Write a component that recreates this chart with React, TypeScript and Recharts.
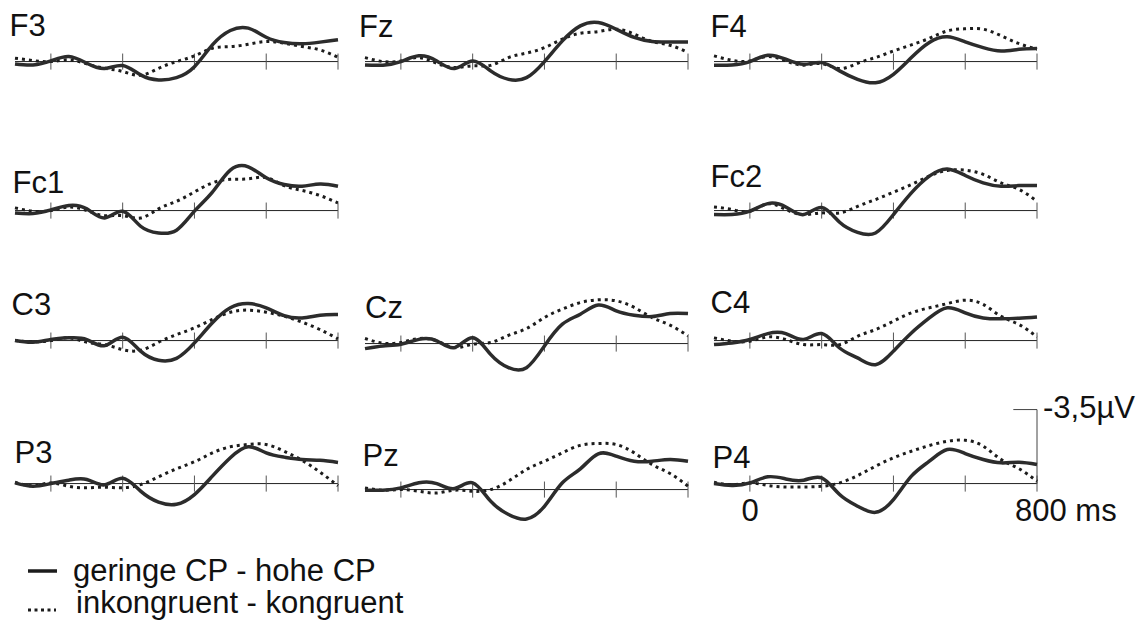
import React from 'react';
import { LineChart, Line, XAxis, YAxis, ReferenceLine } from 'recharts';

// time points in ms
const times = [-100, -50, 0, 50, 100, 150, 200, 250, 300, 350, 400, 450, 500, 550, 600, 650, 700, 750, 800];
const tickTimes = [0, 200, 400, 600, 800];

// difference waves in µV (negative plotted upwards)
const f3Solid = [0.11, 0.16, -0.03, -0.24, 0.08, 0.33, 0.19, 0.63, 0.87, 0.76, 0.24, -0.79, -1.47, -1.58, -1.15, -0.9, -0.84, -0.92, -1.03];
const f3Dotted = [-0.16, -0.05, 0, -0.08, 0.11, 0.32, 0.47, 0.65, 0.32, 0, -0.27, -0.63, -0.71, -0.82, -0.95, -0.87, -0.71, -0.55, -0.2];
const fzSolid = [0.16, 0.17, 0, -0.27, -0.03, 0.33, -0.03, 0.44, 0.84, 0.76, 0, -0.98, -1.69, -1.85, -1.53, -1.14, -0.95, -0.93, -0.93];
const fzDotted = [-0.19, 0, -0.03, -0.19, 0.08, 0.28, 0.2, 0.18, -0.19, -0.4, -0.66, -1.06, -1.34, -1.42, -1.53, -1.3, -0.95, -0.77, -0.43];
const f4Solid = [0.17, 0.16, 0, -0.3, -0.11, 0.13, 0.05, 0.44, 0.84, 1.0, 0.6, -0.19, -0.9, -1.17, -0.93, -0.66, -0.5, -0.58, -0.62];
const f4Dotted = [-0.27, -0.06, -0.03, -0.24, -0.03, 0.17, 0.1, 0.33, 0.08, -0.19, -0.5, -0.79, -1.1, -1.45, -1.55, -1.53, -1.22, -0.85, -0.58];
const fc1Solid = [0.11, 0.14, -0.03, -0.24, -0.08, 0.35, 0.03, 0.74, 1.06, 0.93, 0.03, -0.87, -1.91, -2.07, -1.55, -1.23, -1.15, -1.26, -1.15];
const fc1Dotted = [-0.13, 0.03, 0, -0.17, 0, 0.24, 0.24, 0.35, -0.08, -0.44, -0.88, -1.31, -1.48, -1.5, -1.56, -1.18, -0.95, -0.71, -0.36];
const fc2Solid = [0.19, 0.19, 0.03, -0.33, -0.17, 0.19, -0.14, 0.55, 1.03, 1.06, 0.19, -0.84, -1.63, -1.97, -1.66, -1.31, -1.15, -1.18, -1.18];
const fc2Dotted = [-0.17, -0.05, 0.03, -0.32, -0.05, 0.19, 0.11, 0.11, -0.2, -0.52, -0.87, -1.23, -1.63, -1.9, -1.91, -1.71, -1.31, -1.0, -0.44];
const c3Solid = [0, 0.08, -0.05, -0.13, -0.05, 0.24, -0.16, 0.5, 0.93, 0.84, 0.11, -0.84, -1.55, -1.75, -1.55, -1.18, -1.07, -1.2, -1.23];
const c3Dotted = [0, 0.06, 0, -0.13, 0.08, 0.19, 0.43, 0.46, 0.08, -0.28, -0.6, -1.0, -1.34, -1.44, -1.34, -1.15, -0.87, -0.52, -0.08];
const czSolid = [0.24, 0.11, 0.03, -0.2, -0.13, 0.19, -0.28, 0.51, 1.14, 1.14, 0.11, -0.92, -1.39, -1.82, -1.55, -1.34, -1.28, -1.42, -1.42];
const czDotted = [-0.24, -0.02, -0.05, -0.24, -0.13, 0.19, 0.03, -0.05, -0.39, -0.71, -1.23, -1.63, -1.94, -2.07, -2.02, -1.71, -1.23, -0.87, -0.36];
const c4Solid = [0.19, 0.11, -0.05, -0.33, -0.33, -0.05, -0.33, 0.35, 0.82, 1.14, 0.5, -0.36, -1.07, -1.55, -1.31, -1.07, -1.03, -1.06, -1.12];
const c4Dotted = [-0.13, 0.03, 0.03, -0.17, -0.05, 0.19, 0.19, 0.19, -0.2, -0.52, -0.92, -1.31, -1.55, -1.75, -1.91, -1.71, -1.15, -0.76, -0.17];
const p3Solid = [-0.03, 0.13, 0, -0.16, -0.19, 0.06, -0.25, 0.36, 0.88, 0.98, 0.52, -0.35, -1.22, -1.74, -1.45, -1.25, -1.14, -1.1, -1.0];
const p3Dotted = [-0.06, 0.1, -0.03, 0.13, 0.2, 0.17, 0.2, 0.05, -0.32, -0.7, -1.03, -1.45, -1.74, -1.85, -1.85, -1.53, -1.1, -0.54, 0.1];
const pzSolid = [0.03, 0.03, -0.08, -0.32, -0.28, -0.05, -0.32, 0.55, 1.18, 1.39, 0.79, -0.32, -0.98, -1.69, -1.58, -1.34, -1.34, -1.42, -1.34];
const pzDotted = [-0.08, 0.03, 0, 0.08, 0.16, 0.03, 0.08, 0, -0.4, -0.95, -1.34, -1.74, -2.09, -2.18, -2.13, -1.74, -1.18, -0.76, -0.16];
const p4Solid = [0, 0.09, -0.03, -0.32, -0.22, -0.16, -0.27, 0.52, 1.07, 1.36, 0.76, -0.35, -1.06, -1.61, -1.42, -1.14, -0.98, -1.01, -0.9];
const p4Dotted = [-0.06, 0.05, -0.03, 0.09, 0.16, 0.16, 0.13, -0.03, -0.38, -0.82, -1.22, -1.53, -1.8, -2.0, -2.05, -1.77, -1.14, -0.7, -0.11];

const seriesNames = ['geringe CP - hohe CP', 'inkongruent - kongruent'];
const scaleValue = -3.5;
const scaleLabel = '-3,5µV';
const timeLabels = ['0', '800 ms'];

// layout
const X_DOMAIN: [number, number] = [-100, 800];
const Y_DOMAIN: [number, number] = [-4, 3];
const PW = 323;
const PH = 148;
const PAD = 4;
const FONT = '"Liberation Sans", Arial, Helvetica, sans-serif';
const FS = 31;

const panels = [
  { name: 'F3', solid: f3Solid, dotted: f3Dotted, left: 15, base: 62, lx: 9.5, ly: 36 },
  { name: 'Fz', solid: fzSolid, dotted: fzDotted, left: 365, base: 62, lx: 359, ly: 37 },
  { name: 'F4', solid: f4Solid, dotted: f4Dotted, left: 714, base: 62, lx: 710.5, ly: 36.5 },
  { name: 'Fc1', solid: fc1Solid, dotted: fc1Dotted, left: 15, base: 211, lx: 12.5, ly: 192.5 },
  { name: 'Fc2', solid: fc2Solid, dotted: fc2Dotted, left: 714, base: 211, lx: 710.5, ly: 187 },
  { name: 'C3', solid: c3Solid, dotted: c3Dotted, left: 15, base: 341, lx: 11.5, ly: 315 },
  { name: 'Cz', solid: czSolid, dotted: czDotted, left: 365, base: 344, lx: 365, ly: 317.5 },
  { name: 'C4', solid: c4Solid, dotted: c4Dotted, left: 714, base: 341, lx: 710.5, ly: 313 },
  { name: 'P3', solid: p3Solid, dotted: p3Dotted, left: 15, base: 484, lx: 14.5, ly: 463 },
  { name: 'Pz', solid: pzSolid, dotted: pzDotted, left: 365, base: 490, lx: 362.5, ly: 466 },
  { name: 'P4', solid: p4Solid, dotted: p4Dotted, left: 714, base: 484, lx: 712.5, ly: 468 },
];

type PanelDef = typeof panels[number];

function Panel({ p, showScale }: { p: PanelDef; showScale: boolean }) {
  const rows = times.map((t, i) => ({ t, solid: p.solid[i], dotted: p.dotted[i] }));
  const zeroFrac = -Y_DOMAIN[0] / (Y_DOMAIN[1] - Y_DOMAIN[0]);
  return (
    <div style={{ position: 'absolute', left: p.left - PAD, top: p.base - PH * zeroFrac }}>
      <LineChart width={PW + 2 * PAD} height={PH} data={rows} margin={{ top: 0, right: PAD, bottom: 0, left: PAD }}>
        <XAxis type="number" dataKey="t" domain={X_DOMAIN} hide />
        <YAxis type="number" domain={Y_DOMAIN} reversed hide />
        <ReferenceLine y={0} stroke="#222" strokeWidth={1} />
        {tickTimes.map((t) => (
          <ReferenceLine key={t} segment={[{ x: t, y: -0.38 }, { x: t, y: 0.38 }]} stroke="#555" strokeWidth={1} />
        ))}
        {showScale && (
          <ReferenceLine segment={[{ x: 800, y: 0 }, { x: 800, y: scaleValue }]} stroke="#444" strokeWidth={1} />
        )}
        {showScale && (
          <ReferenceLine segment={[{ x: 734, y: scaleValue }, { x: 800, y: scaleValue }]} stroke="#444" strokeWidth={1} />
        )}
        <Line type="natural" dataKey="dotted" stroke="#1c1c1c" strokeWidth={3} strokeDasharray="3 4" dot={false} isAnimationActive={false} />
        <Line type="natural" dataKey="solid" stroke="#2c2c2c" strokeWidth={3.5} dot={false} isAnimationActive={false} />
      </LineChart>
    </div>
  );
}

export default function App() {
  return (
    <div style={{ position: 'absolute', left: 0, top: 0, width: 1143, height: 634, background: '#fff', overflow: 'hidden' }}>
      {panels.map((p) => (
        <Panel key={p.name} p={p} showScale={p.name === 'P4'} />
      ))}
      <svg width={1143} height={634} style={{ position: 'absolute', left: 0, top: 0, pointerEvents: 'none' }} fontFamily={FONT} fontSize={FS} fill="#111">
        {panels.map((p) => (
          <text key={p.name} x={p.lx} y={p.ly}>{p.name}</text>
        ))}
        <text x={750} y={521} textAnchor="middle">{timeLabels[0]}</text>
        <text x={1015} y={521}>{timeLabels[1]}</text>
        <text x={1043} y={418}>{scaleLabel}</text>
        <line x1={28} x2={57} y1={571} y2={571} stroke="#1c1c1c" strokeWidth={3.5} />
        <text x={73} y={581}>{seriesNames[0]}</text>
        <line x1={28} x2={56} y1={610} y2={610} stroke="#1c1c1c" strokeWidth={3} strokeDasharray="3 3.5" />
        <text x={76} y={613}>{seriesNames[1]}</text>
      </svg>
    </div>
  );
}
